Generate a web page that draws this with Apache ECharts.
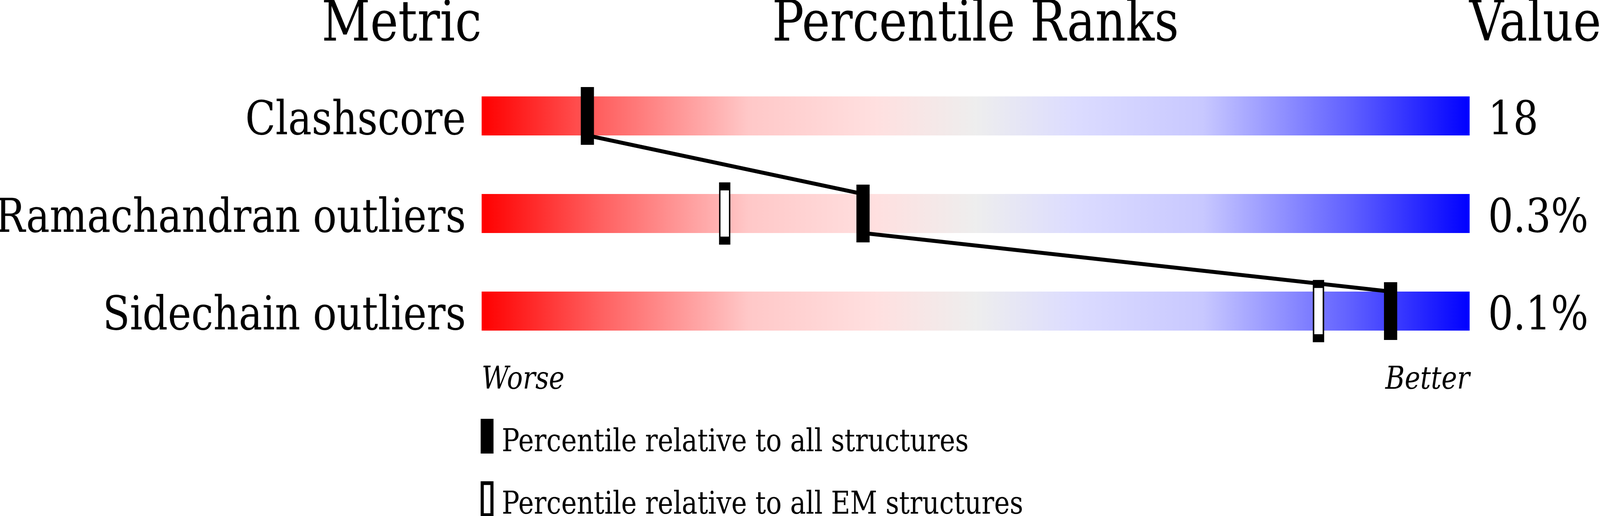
<!DOCTYPE html>
<html>
<head>
<meta charset="utf-8">
<script src="https://cdn.jsdelivr.net/npm/echarts@6.0.0/dist/echarts.min.js"></script>
<style>
  html, body { margin: 0; padding: 0; background: #fff; overflow: hidden; }
  #main { width: 4860px; height: 1322px; transform-origin: 0 0; }
</style>
</head>
<body>
<div id="main"></div>
<script>
// metrics, top to bottom
let metrics = ["Clashscore", "Ramachandran outliers", "Sidechain outliers"]
let valueLabels = ["18", "0.3%", "0.1%"]
// percentile ranks (0 = worse, 100 = better)
let pctAll = [10.7, 38.6, 92.0]
let pctEM = [null, 24.6, 84.7]

let serif = "DejaVu Serif"
let nameAll = 'Percentile relative to all structures'
let nameEM = 'Percentile relative to all EM structures'

// chart is laid out for 4860x1322; stretch it onto whatever window we get
let box = document.getElementById('main')
let W = window.innerWidth || 4860
let H = window.innerHeight || 1322
box.style.transform = 'scale(' + (W / 4860) + ',' + (H / 1322) + ')'

var myChart = echarts.init(box)

// segments of the connecting line: [x0, row0, x1, row1]
let segments = []
for (let i = 0; i < pctAll.length - 1; i++) {
    segments.push([pctAll[i], i, pctAll[i + 1], i + 1])
}

let sliderColor = new echarts.graphic.LinearGradient(0, 0, 1, 0, [
    { offset: 0, color: '#ff0000' },
    { offset: 0.12, color: '#ff6060' },
    { offset: 0.27, color: '#ffc8c8' },
    { offset: 0.4, color: '#ffe0e0' },
    { offset: 0.5, color: '#eeeeee' },
    { offset: 0.6, color: '#dcdcff' },
    { offset: 0.73, color: '#c8c8ff' },
    { offset: 0.88, color: '#6060ff' },
    { offset: 1, color: '#0000ff' }
])

// short line box starting at the row centre -> baseline sits on the bar bottom
let rowLabel = {
    color: '#000',
    fontFamily: serif,
    fontSize: 120,
    verticalAlign: 'top',
    lineHeight: 32
}

function label(text, x, y, size, align, italic) {
    return {
        type: 'text', x: x, y: y,
        style: {
            text: text, fill: '#000',
            font: (italic ? 'italic ' : '') + size + 'px "DejaVu Serif"',
            align: align, verticalAlign: 'middle'
        }
    }
}

var option = {
    backgroundColor: '#fff',
    animation: false,
    grid: {
        left: 1463,
        width: 3001,
        top: 172,
        height: 750,
        outerBoundsMode: 'none'
    },
    xAxis: {
        type: 'value',
        min: 0,
        max: 100,
        show: false
    },
    yAxis: [
        {
            type: 'category',
            data: metrics,
            inverse: true,
            axisLine: { show: false },
            axisTick: { show: false },
            splitLine: { show: false },
            axisLabel: Object.assign({ margin: 48 }, rowLabel)
        },
        {
            type: 'category',
            data: valueLabels,
            inverse: true,
            position: 'right',
            axisLine: { show: false },
            axisTick: { show: false },
            splitLine: { show: false },
            axisLabel: Object.assign({ margin: 56 }, rowLabel)
        }
    ],
    graphic: [
        label('Metric', 1463, 67, 144, 'right'),
        label('Percentile Ranks', 2963, 67, 144, 'center'),
        label('Value', 4463, 67, 144, 'left'),
        label('Worse', 1463, 975, 80, 'left', true),
        label('Better', 4464, 975, 80, 'right', true),
        // key
        { type: 'rect', shape: { x: 1460, y: 1073, width: 39, height: 89 }, style: { fill: '#000' } },
        label(nameAll, 1524, 1135, 80, 'left'),
        { type: 'rect', shape: { x: 1464.75, y: 1237.75, width: 29.5, height: 82 }, style: { fill: '#fff', stroke: '#000', lineWidth: 9.5 } },
        label(nameEM, 1524, 1295, 80, 'left')
    ],
    series: [
        {
            name: 'slider',
            type: 'bar',
            data: metrics.map(() => 100),
            barWidth: '40%',
            silent: true,
            itemStyle: { color: sliderColor },
            z: 1
        },
        {
            name: nameEM,
            type: 'scatter',
            data: pctEM.map((v, i) => [v, i]),
            symbol: 'rect',
            symbolSize: [30, 139],
            itemStyle: { color: '#fff', borderColor: '#000', borderWidth: 9.5, opacity: 1 },
            silent: true,
            z: 2
        },
        {
            name: 'link',
            type: 'custom',
            data: segments,
            silent: true,
            z: 3,
            renderItem: function (params, api) {
                let p0 = api.coord([api.value(0), api.value(1)])
                let p1 = api.coord([api.value(2), api.value(3)])
                let half = api.size([0, 1])[1] * 0.2
                return {
                    type: 'line',
                    shape: { x1: p0[0], y1: p0[1] + half, x2: p1[0], y2: p1[1] - half },
                    style: { stroke: '#000', lineWidth: 10 }
                }
            }
        },
        {
            name: nameAll,
            type: 'scatter',
            data: pctAll.map((v, i) => [v, i]),
            symbol: 'rect',
            symbolSize: [40, 148],
            itemStyle: { color: '#000', opacity: 1 },
            silent: true,
            z: 4
        }
    ]
}

myChart.setOption(option)
</script>
</body>
</html>
